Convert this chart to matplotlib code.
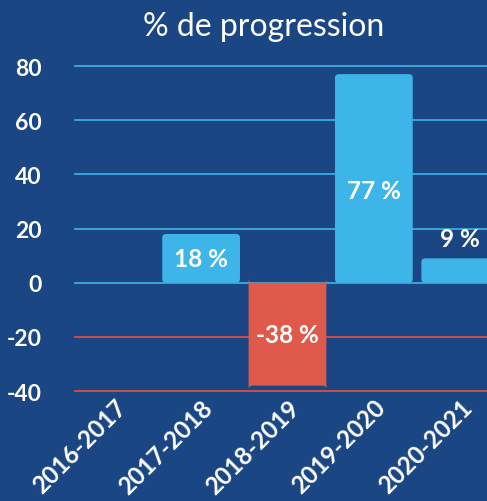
import matplotlib.pyplot as plt
from matplotlib.patches import FancyBboxPatch

# data
periods = ['2016-2017', '2017-2018', '2018-2019', '2019-2020', '2020-2021']
progression = [0, 18, -38, 77, 9]
y_ticks = [-40, -20, 0, 20, 40, 60, 80]

BG = '#1a4784'
BLUE = '#3db5e8'
RED = '#e8503f'

plt.rcParams['font.family'] = ['Lato', 'DejaVu Sans']

fig = plt.figure(figsize=(4.87, 5.02), dpi=100, facecolor=BG)
ax = fig.add_axes([0.154, 0.219, 0.846, 0.6475])
ax.set_facecolor(BG)

x = list(range(len(periods)))
colors = ['#e05a4b' if v < 0 else BLUE for v in progression]
bars = ax.bar(x, progression, width=0.9, color=colors, zorder=3)

ax.set_xlim(-0.46, 4.31)
ax.set_ylim(-40, 80)

# rounded corners instead of the plain rectangles
for b in bars:
    b.set_visible(False)
    if b.get_height() == 0:
        continue
    rp = FancyBboxPatch((b.get_x(), b.get_y()), b.get_width(), b.get_height(),
                        boxstyle='round,pad=0,rounding_size=0.045',
                        mutation_aspect=31, fc=b.get_facecolor(), ec='none', zorder=3)
    ax.add_patch(rp)

# grid lines, blue above zero and red below
for t in y_ticks:
    ax.axhline(t, color=RED if t < 0 else BLUE, lw=1.2, zorder=1, clip_on=False)

# value labels
for xi, v in zip(x, progression):
    if v == 0:
        continue
    if abs(v) < 12:
        ax.text(xi, v + 3, f'{v} %', ha='center', va='bottom', color='white',
                fontsize=17.5, fontweight='bold', zorder=4)
    else:
        yy = min(v / 2, 34)  # tall bar label sits a little lower
        ax.text(xi, yy, f'{v} %', ha='center', va='center', color='white',
                fontsize=17.5, fontweight='bold', zorder=4)

ax.set_yticks(y_ticks)
ax.set_yticklabels([str(t) for t in y_ticks], color='white', fontsize=16.5, fontweight='bold')
ax.set_xticks(x)
ax.set_xticklabels(periods, rotation=45, ha='right', rotation_mode='anchor',
                   color='white', fontsize=17.5, fontweight='bold')
ax.tick_params(axis='y', length=0, pad=24)
ax.tick_params(axis='x', length=0, pad=3)
for s in ax.spines.values():
    s.set_visible(False)

fig.text(0.542, 0.946, '% de progression', ha='center', va='center',
         color='white', fontsize=23)

fig.savefig('out.png', dpi=100, facecolor=BG)
